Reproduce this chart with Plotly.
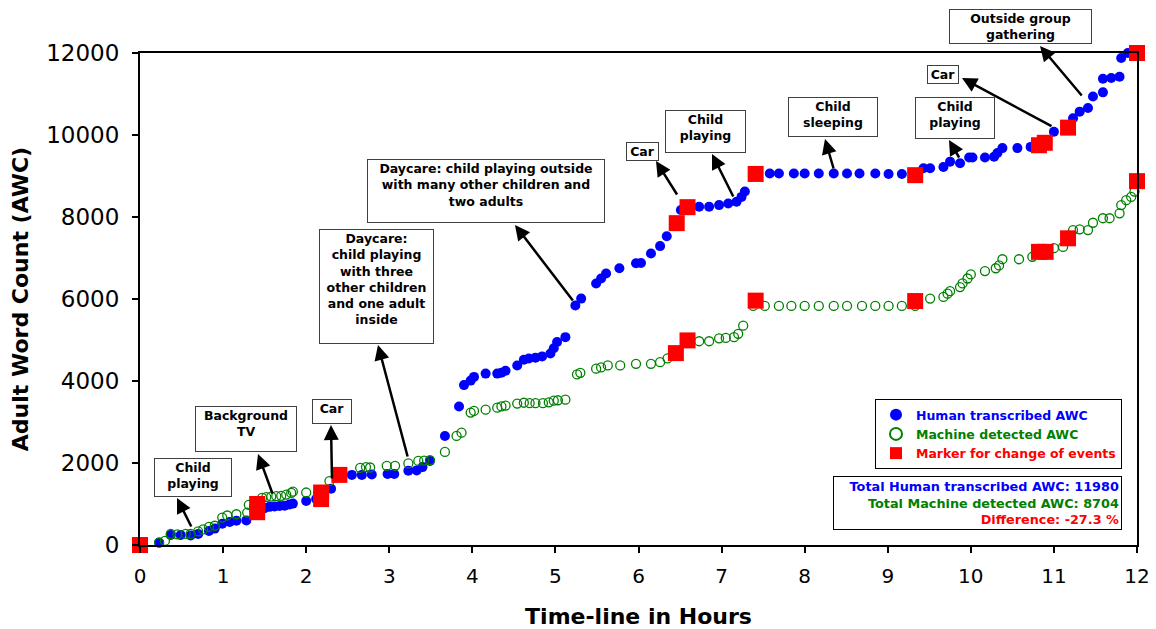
import plotly.graph_objects as go

# ---------------- data ----------------
human_x = [0.23, 0.37, 0.49, 0.61, 0.70, 0.83, 0.90, 0.99, 1.08, 1.16, 1.28, 1.44, 1.50, 1.56, 1.62,
           1.68, 1.74, 1.80, 1.84, 2.00, 2.12, 2.30, 2.55, 2.67, 2.79, 2.98, 3.06, 3.23, 3.33, 3.40,
           3.49, 3.67, 3.84, 3.90, 3.98, 4.02, 4.16, 4.30, 4.35, 4.40, 4.54, 4.62, 4.68, 4.76, 4.84,
           4.94, 4.98, 5.02, 5.12, 5.24, 5.31, 5.49, 5.55, 5.61, 5.77, 5.97, 6.03, 6.15, 6.26, 6.34,
           6.51, 6.73, 6.85, 6.97, 7.08, 7.18, 7.24, 7.28, 7.58, 7.69, 7.87, 8.00, 8.17, 8.35, 8.51,
           8.66, 8.85, 9.01, 9.17, 9.43, 9.51, 9.67, 9.75, 9.87, 9.98, 10.02, 10.17, 10.28, 10.32,
           10.38, 10.56, 10.72, 11.00, 11.23, 11.31, 11.41, 11.47, 11.59, 11.59, 11.69, 11.79, 11.81,
           11.89]
human_y = [60, 245, 245, 230, 270, 340, 400, 520, 560, 590, 600, 800, 900, 930, 940,
           950, 960, 990, 1010, 1075, 1120, 1370, 1710, 1710, 1720, 1730, 1730, 1810, 1820, 1900,
           2050, 2660, 3380, 3900, 4010, 4100, 4180, 4180, 4200, 4250, 4380, 4520, 4550, 4570, 4600,
           4670, 4800, 4950, 5070, 5840, 6010, 6380, 6500, 6620, 6750, 6870, 6880, 7110, 7290, 7530,
           8170, 8250, 8250, 8290, 8330, 8370, 8490, 8620, 9060, 9060, 9060, 9060, 9060, 9060, 9060,
           9060, 9060, 9050, 9050, 9190, 9190, 9220, 9350, 9310, 9450, 9450, 9450, 9470, 9560,
           9680, 9680, 9710, 10080, 10410, 10570, 10660, 10940, 11040, 11370, 11390, 11420, 11880,
           12000]

machine_x = [0.23, 0.30, 0.37, 0.45, 0.55, 0.61, 0.70, 0.76, 0.83, 0.90, 0.99, 1.05, 1.16, 1.29, 1.31,
             1.47, 1.52, 1.58, 1.64, 1.70, 1.76, 1.82, 1.84, 2.00, 2.28, 2.43, 2.65, 2.72, 2.77, 2.97,
             3.07, 3.23, 3.35, 3.42, 3.49, 3.67, 3.81, 3.87, 3.98, 4.02, 4.16, 4.30, 4.35, 4.40, 4.54,
             4.62, 4.69, 4.76, 4.85, 4.92, 4.98, 5.03, 5.12, 5.26, 5.30, 5.49, 5.55, 5.63, 5.78, 5.97,
             6.15, 6.26, 6.35, 6.73, 6.85, 6.97, 7.05, 7.15, 7.20, 7.26, 7.38, 7.52, 7.69, 7.84, 8.00,
             8.17, 8.35, 8.51, 8.69, 8.85, 9.01, 9.17, 9.33, 9.51, 9.67, 9.72, 9.75, 9.87, 9.90, 9.96,
             10.00, 10.17, 10.30, 10.34, 10.38, 10.58, 10.74, 11.00, 11.11, 11.23, 11.31, 11.41, 11.47,
             11.59, 11.67, 11.79, 11.81, 11.87, 11.93, 11.97]
machine_y = [60, 100, 270, 260, 270, 270, 330, 380, 440, 470, 670, 720, 750, 790, 980,
             1150, 1170, 1180, 1190, 1200, 1230, 1270, 1300, 1280, 1560, 1720, 1880, 1900, 1890, 1930,
             1930, 1990, 2050, 2060, 2070, 2270, 2660, 2740, 3230, 3270, 3300, 3350, 3380, 3400, 3450,
             3470, 3460, 3460, 3460, 3480, 3520, 3530, 3545, 4160, 4200, 4300, 4330, 4380, 4380, 4420,
             4420, 4460, 4550, 4970, 4970, 5040, 5050, 5070, 5150, 5350, 5830, 5830, 5830, 5830, 5830,
             5830, 5830, 5830, 5830, 5830, 5830, 5830, 5830, 6010, 6050, 6130, 6190, 6290, 6380, 6500,
             6600, 6680, 6750, 6820, 6970, 6970, 7030, 7240, 7270, 7680, 7700, 7680, 7860,
             7970, 7970, 8090, 8290, 8410, 8490, 8620]

event_x = [0, 1.41, 1.41, 2.18, 2.18, 2.40, 6.46, 6.59, 6.45, 6.59, 7.41, 7.41, 9.33, 9.33,
           10.82, 10.89, 10.82, 10.90, 11.17, 11.17, 12, 12]
event_y = [0, 800, 1000, 1120, 1280, 1710, 7850, 8240, 4680, 4990, 9050, 5960, 9020, 5950,
           9750, 9810, 7150, 7150, 10180, 7480, 12000, 8875]

series_names = ["Human transcribed AWC", "Machine detected AWC", "Marker for change of events"]
total_human = 11980
total_machine = 8704
difference_pct = -27.3

event_labels = ["Child<br>playing", "Background<br>TV", "Car",
                "Daycare:<br>child playing<br>with three<br>other children<br>and one adult<br>inside",
                "Daycare: child playing outside<br>with many other children and<br>two adults",
                "Car", "Child<br>playing", "Child<br>sleeping", "Child<br>playing", "Car",
                "Outside group<br>gathering"]

# ---------------- layout geometry (pixels) ----------------
W, H = 1156, 629
L, R, T, B = 140, 1137, 53, 545

def px2paper(px, py):
    return (px - L) / (R - L), (B - py) / (B - T)

def px2data(px, py):
    return (px - L) / (R - L) * 12, (B - py) / (B - T) * 12000

# label boxes: left, top, right, bottom (pixels)
boxes = [(154, 458, 232, 497), (195, 406, 297, 452), (312, 399, 352, 424), (319, 229, 434, 344),
         (367, 159, 605, 223), (626, 142, 659, 159), (665, 110, 746, 153), (788, 97, 878, 137),
         (915, 97, 995, 139), (927, 65, 959, 80), (949, 9, 1092, 45)]
# arrows: tail (near data) and head (at box), pixels
arrows = [((192, 528), (177, 498)), ((273, 495), (258, 454)), ((332, 480), (331, 425)),
          ((408, 458), (378, 345)), ((574, 302), (515, 225)), ((678, 196), (656, 161)),
          ((734, 198), (712, 154)), ((834, 170), (825, 139)), ((960, 159), (949, 140)),
          ((1053, 127), (962, 78)), ((1083, 97), (1040, 46))]

FONT = "Verdana, DejaVu Sans, sans-serif"
LABEL_SIZE = 12.5
LINE_H = LABEL_SIZE * 1.3

fig = go.Figure()
fig.add_trace(go.Scatter(x=human_x, y=human_y, mode="markers", name=f"<b><span style='color:#0000FF'>{series_names[0]}</span></b>",
                         marker=dict(color="#0000FF", size=10, symbol="circle"), cliponaxis=False))
fig.add_trace(go.Scatter(x=machine_x, y=machine_y, mode="markers", name=f"<b><span style='color:#008000'>{series_names[1]}</span></b>",
                         marker=dict(color="#008000", size=9, symbol="circle-open", line=dict(width=1.3, color="#008000")),
                         cliponaxis=False))
fig.add_trace(go.Scatter(x=event_x, y=event_y, mode="markers", name=f"<b><span style='color:#FF0000'>{series_names[2]}</span></b>",
                         marker=dict(color="#FF0000", size=16, symbol="square"), cliponaxis=False))

annotations = []
for text, (l, t, r, b) in zip(event_labels, boxes):
    nlines = text.count("<br>") + 1
    bh = b - t - 4
    height = bh if bh >= nlines * LINE_H else None
    x0, y0 = px2paper(l, t)
    annotations.append(dict(xref="paper", yref="paper", x=x0, y=y0, xanchor="left", yanchor="top",
                            text=f"<b>{text}</b>", showarrow=False, width=r - l - 4, height=height,
                            align="center", valign="top", bgcolor="white", bordercolor="#404040",
                            borderwidth=1, borderpad=1, font=dict(family=FONT, size=LABEL_SIZE, color="black")))
for (tail, head) in arrows:
    hx, hy = px2data(*head)
    tx, ty = px2data(*tail)
    annotations.append(dict(xref="x", yref="y", axref="x", ayref="y", x=hx, y=hy, ax=tx, ay=ty,
                            text="", showarrow=True, arrowhead=2, arrowsize=1.2, arrowwidth=2.5,
                            arrowcolor="black", standoff=0, startstandoff=0))

sx, sy = px2paper(1122, 476)
annotations.append(dict(xref="paper", yref="paper", x=sx, y=sy, xanchor="right", yanchor="top",
                        showarrow=False, align="right", bgcolor="white", bordercolor="black",
                        borderwidth=1, borderpad=2, width=283,
                        font=dict(family=FONT, size=12.8),
                        text=(f"<b><span style='color:#0000FF'>Total Human transcribed AWC: {total_human}</span><br>"
                              f"<span style='color:#008000'>Total Machine detected AWC: {total_machine}</span><br>"
                              f"<span style='color:#FF0000'>Difference: {difference_pct} %</span></b>")))

lx, ly = px2paper(1122, 399)
fig.update_layout(
    width=W, height=H,
    margin=dict(l=L, r=W - R, t=T, b=H - B, autoexpand=False),
    paper_bgcolor="white", plot_bgcolor="white",
    font=dict(family=FONT, color="black"),
    showlegend=True,
    legend=dict(x=lx, y=ly, xanchor="right", yanchor="top", bordercolor="black", borderwidth=1,
                bgcolor="white", font=dict(family=FONT, size=12.5), itemsizing="constant",
                tracegroupgap=0),
    annotations=annotations,
    xaxis=dict(range=[0, 12], dtick=1, tick0=0, ticks="outside", ticklen=6, tickwidth=1.5,
               tickcolor="black", showline=True, linecolor="black", linewidth=2, mirror=True,
               showgrid=False, zeroline=False, tickfont=dict(family=FONT, size=20),
               ticklabelstandoff=6, automargin=False,
               title=dict(text="<b>Time-line in Hours</b>", font=dict(family=FONT, size=22), standoff=22)),
    yaxis=dict(range=[0, 12000], dtick=2000, tick0=0, ticks="outside", ticklen=6, tickwidth=1.5,
               tickcolor="black", showline=True, linecolor="black", linewidth=2, mirror=True,
               showgrid=False, zeroline=False, tickfont=dict(family=FONT, size=23), tickformat="d",
               ticklabelstandoff=8, automargin=False,
               title=dict(text="<b>Adult Word Count (AWC)</b>", font=dict(family=FONT, size=22), standoff=12)),
)

fig.write_html("out.html", config={"displayModeBar": False},
               post_script="document.body.style.margin='0px';")
